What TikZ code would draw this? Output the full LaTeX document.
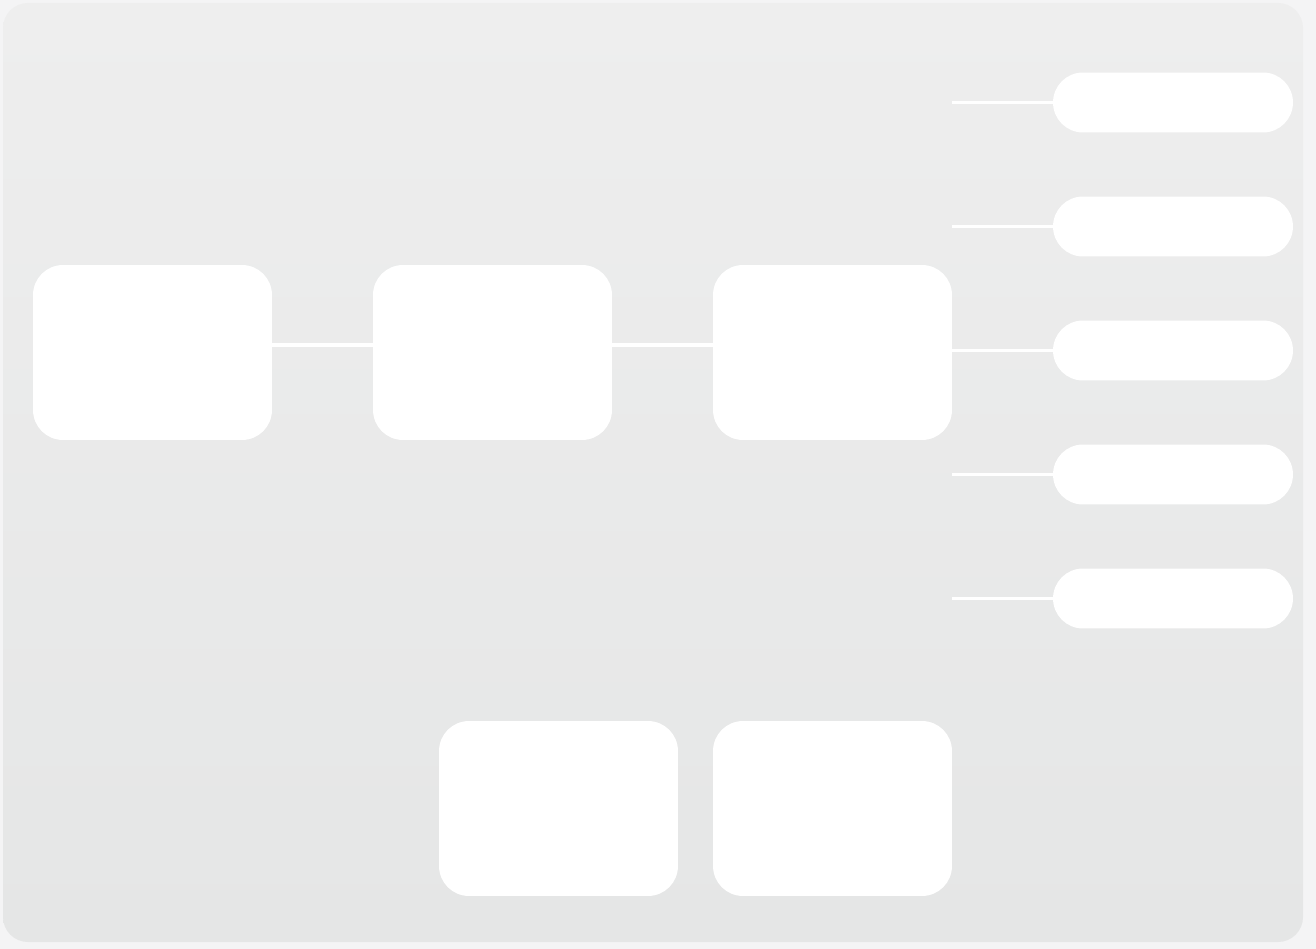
\documentclass[tikz,border=0pt]{standalone}
\usepackage{tikz}
\usetikzlibrary{positioning, arrows.meta}

\definecolor{paper}{HTML}{F4F4F5}
\definecolor{boardtop}{HTML}{EEEEEE}
\definecolor{boardbot}{HTML}{E5E6E6}

\begin{document}
\begin{tikzpicture}[x=0.02cm, y=-0.02cm,
  card/.style={fill=white, draw=none, rectangle, rounded corners=0.6cm, minimum width=4.78cm, minimum height=3.5cm, inner sep=0pt},
  pill/.style={fill=white, draw=none, rectangle, rounded corners=0.6cm, minimum width=4.8cm, minimum height=1.2cm, inner sep=0pt},
  link/.style={draw=white, line width=2.1pt}
]

% ===== Page and board =====
\fill[paper] (0,0) rectangle (1316,949);
\useasboundingbox (0,0) rectangle (1316,949);
\shade[top color=boardtop, bottom color=boardbot, rounded corners=0.5cm] (3,3) rectangle (1303,942);

% ===== Main row =====
\node[card] at (152.5, 352.5) (left) {};
\node[card] at (492.5, 352.5) (mid) {};
\node[card] at (832.5, 352.5) (hub) {};

% ===== Right column =====
\node[pill] at (1173, 102.5) (opt1) {};
\node[pill] at (1173, 226.5) (opt2) {};
\node[pill] at (1173, 350.5) (opt3) {};
\node[pill] at (1173, 474.5) (opt4) {};
\node[pill] at (1173, 598.5) (opt5) {};

% ===== Bottom row =====
\node[card] at (558.5, 808.5) (low1) {};
\node[card] at (832.5, 808.5) (low2) {};

% Links along the main row
\draw[link] ([yshift=0.15cm]left.east) -- ([yshift=0.15cm]mid.west);
\draw[link] ([yshift=0.15cm]mid.east) -- ([yshift=0.15cm]hub.west);

% Links to the right column
\foreach \k in {1,...,5}
  \draw[link] (hub.east |- opt\k.west) -- (opt\k.west);

\end{tikzpicture}
\end{document}
